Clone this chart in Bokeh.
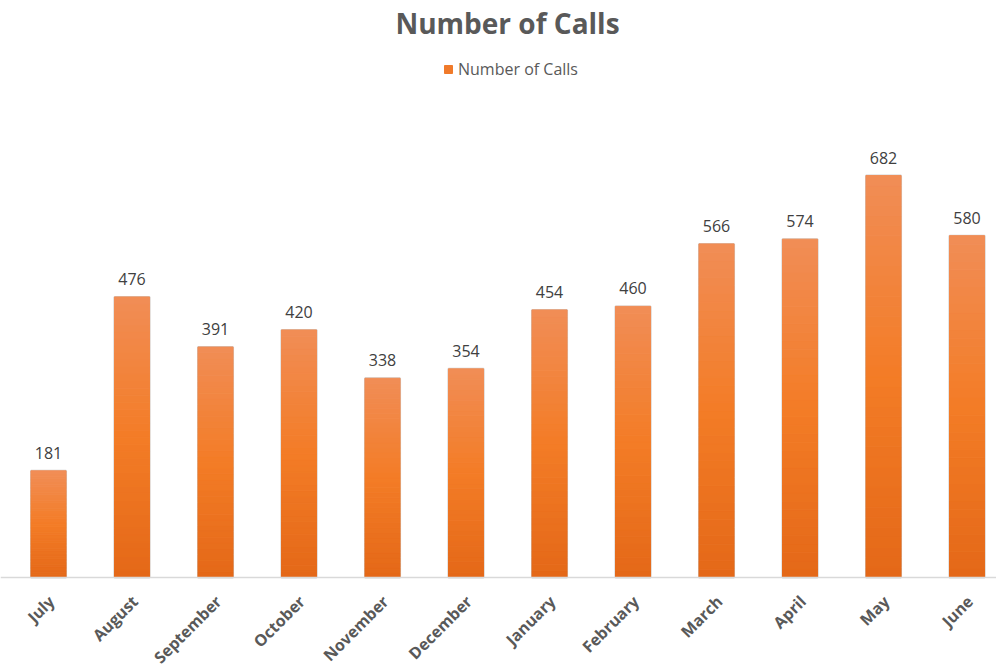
import numpy as np
from bokeh.plotting import figure
from bokeh.models import (ColumnDataSource, Range1d, Label, Legend, LegendItem, Span)
from bokeh.core.properties import value
from bokeh.embed import file_html
from bokeh.resources import INLINE

months = ["July", "August", "September", "October", "November", "December",
          "January", "February", "March", "April", "May", "June"]
calls = [181, 476, 391, 420, 338, 354, 454, 460, 566, 574, 682, 580]
series_name = "Number of Calls"

FONT = "Open Sans"
xs = np.arange(len(months))
vals = np.array(calls, dtype=float)

p = figure(width=996, height=664, output_backend="svg", toolbar_location=None,
           x_range=Range1d(-0.575, 11.353), y_range=Range1d(-147.6, 979.0),
           x_axis_location=None, y_axis_location=None,
           min_border_left=0, min_border_right=0, min_border_top=0, min_border_bottom=0)
p.outline_line_color = None
p.grid.visible = False
p.background_fill_color = "white"
p.border_fill_color = "white"

# gradient bars: slices colored from darker bottom to lighter top
stops_t = [0.0, 0.5, 1.0]
stops_c = [(0xE4, 0x68, 0x18), (0xF3, 0x7C, 0x26), (0xF1, 0x8D, 0x56)]
N = 40
bx, bb, bt, bc = [], [], [], []
for x, v in zip(xs, vals):
    for k in range(N):
        t0, t1 = k / N, (k + 1) / N
        tm = (t0 + t1) / 2
        rgb = [int(round(np.interp(tm, stops_t, [c[i] for c in stops_c]))) for i in range(3)]
        bx.append(x); bb.append(v * t0); bt.append(v * t1)
        bc.append("#%02x%02x%02x" % tuple(rgb))
slices = ColumnDataSource(dict(x=bx, bottom=bb, top=bt, color=bc))
W = 0.42
# soft shadow edge
p.vbar(x=xs, top=vals, bottom=0, width=W, fill_color=None, line_color="#c4c4c4", line_width=2, line_alpha=0.8)
p.vbar(x="x", top="top", bottom="bottom", width=W, source=slices,
       fill_color="color", line_color="color", line_width=1)
legend_proxy = p.vbar(x=[0], top=[0], width=0, fill_color="#F07A2A", line_color="#F07A2A")

# category axis line at zero
p.add_layout(Span(location=0, dimension="width", line_color="#d9d9d9", line_width=1.5))

# value labels
src = ColumnDataSource(dict(x=xs, y=vals, t=[str(c) for c in calls]))
p.text(x="x", y="y", text="t", source=src, text_align="center", text_baseline="bottom",
       y_offset=-12, text_font=value(FONT), text_font_size="16px", text_color="#404040")

# category labels, rotated, below the axis line
cat_src = ColumnDataSource(dict(x=xs, y=np.zeros(len(months)), m=months))
p.text(x="x", y="y", text="m", source=cat_src, angle=np.pi / 4,
       text_align="right", text_baseline="middle", x_offset=3, y_offset=21,
       text_font=value(FONT), text_font_style="bold", text_font_size="16px",
       text_color="#595959")

# title
p.add_layout(Label(x=507, y=642, x_units="screen", y_units="screen", text=series_name,
                   text_align="center", text_baseline="middle", text_font=FONT,
                   text_font_style="bold", text_font_size="28px", text_color="#595959"))

legend = Legend(items=[LegendItem(label=series_name, renderers=[legend_proxy])],
                location=(443, 584), orientation="horizontal",
                background_fill_alpha=0, border_line_alpha=0,
                glyph_width=10, glyph_height=10, label_text_font=FONT,
                label_text_font_size="16px", label_text_color="#595959",
                padding=0, margin=0, label_standoff=5)
p.add_layout(legend, "center")

open("out.html", "w").write(file_html(p, INLINE))
